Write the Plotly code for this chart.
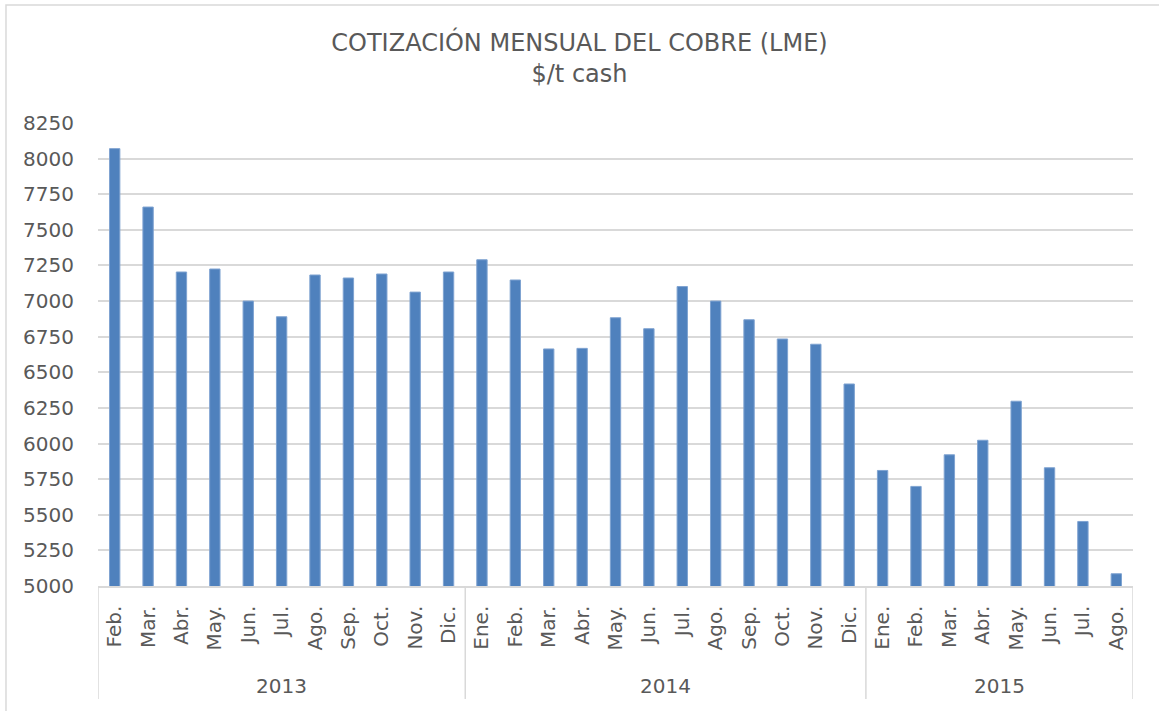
import plotly.graph_objects as go

years = ["2013", "2014", "2015"]
months_2013 = ["Feb.", "Mar.", "Abr.", "May.", "Jun.", "Jul.", "Ago.", "Sep.", "Oct.", "Nov.", "Dic."]
months_2014 = ["Ene.", "Feb.", "Mar.", "Abr.", "May.", "Jun.", "Jul.", "Ago.", "Sep.", "Oct.", "Nov.", "Dic."]
months_2015 = ["Ene.", "Feb.", "Mar.", "Abr.", "May.", "Jun.", "Jul.", "Ago."]

values_2013 = [8070, 7660, 7204, 7225, 7000, 6890, 7183, 7162, 7190, 7063, 7204]
values_2014 = [7290, 7148, 6664, 6668, 6883, 6806, 7102, 7000, 6869, 6734, 6697, 6418]
values_2015 = [5811, 5699, 5921, 6023, 6297, 5830, 5453, 5086]

y_ticks = [5000, 5250, 5500, 5750, 6000, 6250, 6500, 6750, 7000, 7250, 7500, 7750, 8000, 8250]

groups = [months_2013, months_2014, months_2015]
month_labels = months_2013 + months_2014 + months_2015
values = values_2013 + values_2014 + values_2015
x_idx = list(range(len(values)))

TXT = "#595959"
GRID = "#D9D9D9"
FONT = "DejaVu Sans"

fig = go.Figure()
fig.add_trace(go.Bar(
    x=x_idx, y=values, width=0.31,
    marker=dict(color="#4F81BD", line=dict(color="#7FA3D1", width=1)),
    hoverinfo="x+y",
))

shapes = []
annotations = []
start = 0
bounds = [-0.5]
for yr, g in zip(years, groups):
    end = start + len(g)
    bounds.append(end - 0.5)
    annotations.append(dict(
        x=(start + end - 1) / 2, y=-0.216, xref="x", yref="paper",
        text=yr, showarrow=False, font=dict(family=FONT, size=20, color=TXT),
        xanchor="center", yanchor="middle",
    ))
    start = end

for b in bounds:
    shapes.append(dict(type="line", xref="x", yref="paper", x0=b, x1=b, y0=0, y1=-0.244,
                       line=dict(color=GRID, width=1.5)))

# outer chart border
shapes.append(dict(type="rect", xref="paper", yref="paper", x0=-0.0889, x1=1.05, y0=-0.4, y1=1.2549,
                   line=dict(color=GRID, width=1.5), fillcolor="rgba(0,0,0,0)", layer="below"))

fig.update_layout(
    width=1159, height=711,
    margin=dict(l=98, r=26, t=123, b=125),
    paper_bgcolor="white", plot_bgcolor="white",
    showlegend=False,
    title=dict(
        text="COTIZACIÓN MENSUAL DEL COBRE (LME)<br>$/t cash",
        x=0.5, xanchor="center", y=0.928, yanchor="middle",
        font=dict(family=FONT, size=24, color=TXT),
    ),
    xaxis=dict(
        range=[-0.5, len(values) - 0.5],
        tickmode="array", tickvals=x_idx, ticktext=month_labels,
        tickangle=-90, tickfont=dict(family=FONT, size=20, color=TXT),
        ticklabelstandoff=10,
        showgrid=False, showline=True, linecolor=GRID, linewidth=1.5,
        ticks="", zeroline=False, fixedrange=True,
    ),
    yaxis=dict(
        range=[5000, 8250], tickmode="array", tickvals=y_ticks,
        tickfont=dict(family=FONT, size=20, color=TXT),
        ticklabelstandoff=23,
        showgrid=True, gridcolor=GRID, gridwidth=1.5,
        zeroline=False, showline=False, ticks="", ticklen=0,
        fixedrange=True,
    ),
    shapes=shapes,
    annotations=annotations,
    bargap=0.69,
)

fig.write_html("out.html", config={"displayModeBar": False},
               post_script="document.body.style.margin='0';document.body.style.overflow='hidden';")
